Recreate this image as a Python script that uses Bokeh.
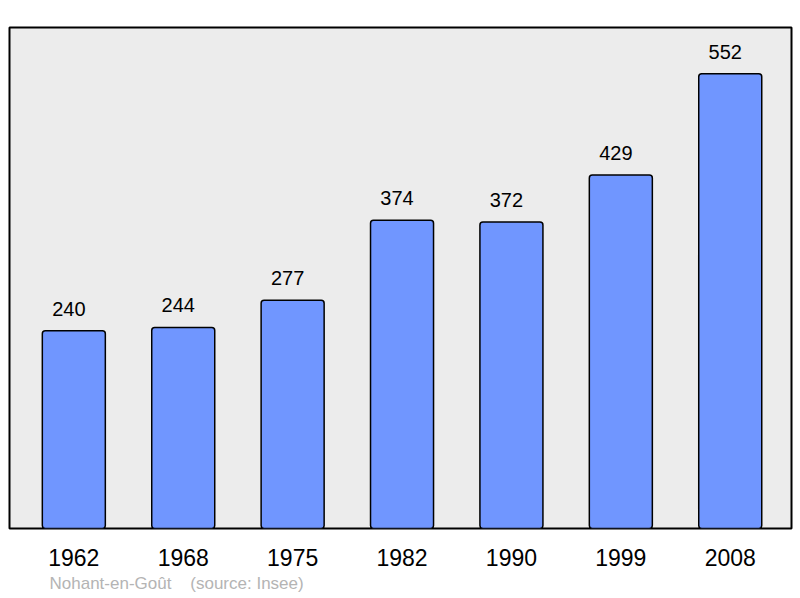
from bokeh.plotting import figure
from bokeh.models import ColumnDataSource, FixedTicker, Range1d, Title
from bokeh.core.properties import value
from bokeh.embed import file_html
from bokeh.resources import INLINE

years = ["1962", "1968", "1975", "1982", "1990", "1999", "2008"]
population = [240, 244, 277, 374, 372, 429, 552]
footer = "Nohant-en-Goût \u00a0\u00a0\u00a0(source: Insee)"

idx = list(range(len(years)))
src = ColumnDataSource(dict(x=idx, top=population, label=[str(v) for v in population]))

p = figure(width=800, height=598, output_backend="svg", toolbar_location=None,
           x_range=Range1d(-0.588, 6.56), y_range=Range1d(0, 608),
           min_border_left=9, min_border_right=9, min_border_top=27, min_border_bottom=70)
p.background_fill_color = "#ececec"
p.border_fill_color = "white"
p.outline_line_color = "black"
p.outline_line_width = 2
p.grid.visible = False
p.yaxis.visible = False

p.vbar(x="x", top="top", width=0.576, bottom=0, source=src,
       fill_color="#7096ff", line_color="black", line_width=1.5, border_radius=3)
p.text(x="x", y="top", text="label", source=src, text_align="center",
       text_baseline="middle", x_offset=-5, y_offset=-22, text_font=value("Liberation Sans"),
       text_font_size="20px", text_color="black")

ax = p.xaxis[0]
ax.ticker = FixedTicker(ticks=idx)
ax.major_label_overrides = {i: y for i, y in zip(idx, years)}
ax.axis_line_color = None
ax.major_tick_line_color = None
ax.minor_tick_line_color = None
ax.major_tick_out = 0
ax.major_tick_in = 0
ax.major_label_standoff = 20
ax.major_label_text_font = "Liberation Sans"
ax.major_label_text_font_size = "23px"
ax.major_label_text_color = "black"

p.add_layout(Title(text=footer, align="left", offset=40, text_color="#b4b4b4",
                   text_font="Liberation Sans", text_font_size="17px",
                   text_font_style="normal", standoff=7), "below")

open("out.html", "w").write(file_html(p, INLINE))
